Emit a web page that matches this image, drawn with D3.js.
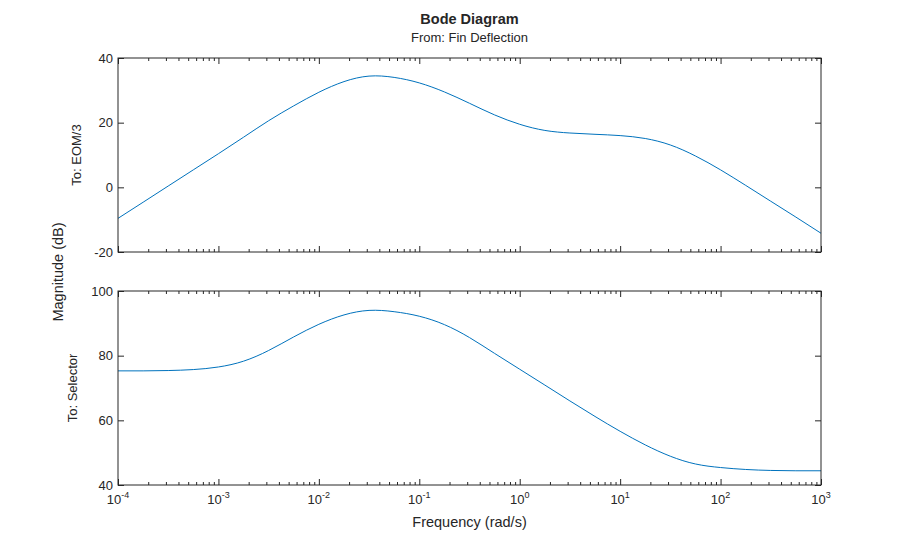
<!doctype html>
<meta charset="utf-8">
<style>
body {
  margin: 0;
  background: #fff;
  font-family: "Liberation Sans", Arial, sans-serif;
}
text { fill: #262626; }
.axis path, .axis line { stroke: #262626; }
</style>
<script src="https://cdn.jsdelivr.net/npm/d3@7"></script>
<body>

<script>

var w = 908, h = 546;

// frequency grid (rad/s), quarter decades, and magnitudes
var freq = [1e-4, 1.78e-4, 3.16e-4, 5.62e-4, 1e-3, 1.78e-3, 3.16e-3, 5.62e-3,
            1e-2, 1.78e-2, 3.16e-2, 5.62e-2, 1e-1, 1.78e-1, 3.16e-1, 5.62e-1,
            1, 1.78, 3.16, 5.62, 10, 17.8, 31.6, 56.2,
            100, 178, 316, 562, 1000];
var magEOM = [-9.6, -4.6, 0.4, 5.4, 10.4, 15.5, 20.6, 25.2,
              29.4, 32.7, 34.4, 34.0, 32.3, 29.5, 26.0, 22.4,
              19.5, 17.6, 16.8, 16.4, 16.0, 15.1, 13.1, 9.7,
              5.4, 0.6, -4.3, -9.2, -14.2];
var magSelector = [75.3, 75.3, 75.4, 75.7, 76.5, 78.3, 81.6, 85.8,
                   89.7, 92.6, 94.0, 93.6, 92.2, 89.6, 85.6, 80.7,
                   75.8, 70.9, 66.0, 61.2, 56.6, 52.4, 48.9, 46.5,
                   45.4, 44.8, 44.5, 44.4, 44.4];

var decades = [1e-4, 1e-3, 1e-2, 1e-1, 1e0, 1e1, 1e2, 1e3];
var decadeExp = ["-4", "-3", "-2", "-1", "0", "1", "2", "3"];
var eomTicks = [-20, 0, 20, 40];
var selTicks = [40, 60, 80, 100];

var left = 118, right = 821;

var svg = d3.select("body")
  .append("svg")
    .attr("width", w)
    .attr("height", h)

var x = d3.scaleLog().domain([1e-4, 1e3]).range([left, right]);

// minor ticks 2..9 in every decade
var minor = [];
decades.slice(0, -1).forEach(function(d) {
  for (var k = 2; k < 10; k++) minor.push(d * k);
});

var panels = [
  {top: 58, bottom: 252, domain: [-20, 40], ticks: eomTicks, values: magEOM, label: "To: EOM/3", lx: 81},
  {top: 291, bottom: 485, domain: [40, 100], ticks: selTicks, values: magSelector, label: "To: Selector", lx: 77}
];

panels.forEach(function(p, i) {
  var y = d3.scaleLinear().domain(p.domain).range([p.bottom, p.top]);
  var g = svg.append("g");

  // clip the curve to the box
  svg.append("clipPath").attr("id", "clip" + i)
    .append("rect")
      .attr("x", left).attr("y", p.top)
      .attr("width", right - left).attr("height", p.bottom - p.top);

  var line = d3.line()
      .x(function(d, j) { return x(freq[j]); })
      .y(function(d) { return y(d); })
      .curve(d3.curveNatural);

  g.append("path")
      .datum(p.values)
      .attr("clip-path", "url(#clip" + i + ")")
      .attr("d", line)
      .style("fill", "none")
      .style("stroke", "#0072BD")
      .style("stroke-width", 1);

  // x ticks, inside, top and bottom
  [[d3.axisBottom, p.bottom], [d3.axisTop, p.top]].forEach(function(a) {
    g.append("g").attr("class", "axis")
        .attr("transform", "translate(0," + a[1] + ")")
        .call(a[0](x).tickValues(minor).tickSize(-3).tickFormat("").tickSizeOuter(0))
        .call(function(s) { s.select(".domain").remove(); });
    g.append("g").attr("class", "axis")
        .attr("transform", "translate(0," + a[1] + ")")
        .call(a[0](x).tickValues(decades).tickSize(-6).tickFormat("").tickSizeOuter(0))
        .call(function(s) { s.select(".domain").remove(); });
  });

  // y ticks, inside, left and right (plain hyphen for negatives)
  var ly = g.append("g").attr("class", "axis")
      .attr("transform", "translate(" + left + ",0)")
      .call(d3.axisLeft(y).tickValues(p.ticks).tickSize(-6).tickSizeOuter(0).tickPadding(5)
        .tickFormat(function(d) { return String(d); }));
  ly.select(".domain").remove();
  ly.selectAll("text")
      .style("font-family", "Liberation Sans, Arial, sans-serif")
      .style("font-size", "13px")
      .style("fill", "#262626");

  g.append("g").attr("class", "axis")
      .attr("transform", "translate(" + right + ",0)")
      .call(d3.axisRight(y).tickValues(p.ticks).tickSize(-6).tickFormat("").tickSizeOuter(0))
      .call(function(s) { s.select(".domain").remove(); });

  // box
  g.append("rect")
      .attr("x", left).attr("y", p.top)
      .attr("width", right - left).attr("height", p.bottom - p.top)
      .style("fill", "none")
      .style("stroke", "#262626")
      .style("stroke-width", 1);

  g.append("text")
      .attr("transform", "translate(" + p.lx + "," + (p.top + p.bottom) / 2 + ") rotate(-90)")
      .attr("text-anchor", "middle")
      .style("font-size", "13px")
      .text(p.label);

  // decade labels under the last panel
  if (i == panels.length - 1) {
    var lab = g.selectAll(".xl").data(decades).enter()
      .append("text")
        .attr("class", "xl")
        .attr("x", function(d) { return x(d); })
        .attr("y", p.bottom + 19)
        .attr("text-anchor", "middle")
        .style("font-size", "13px");
    lab.append("tspan").text("10");
    lab.append("tspan")
        .attr("dy", -6)
        .style("font-size", "9px")
        .text(function(d, j) { return decadeExp[j]; });
  }
});

svg.append("text")
    .attr("x", (left + right) / 2)
    .attr("y", 24)
    .attr("text-anchor", "middle")
    .style("font-size", "14.5px")
    .style("font-weight", "bold")
    .text("Bode Diagram");

svg.append("text")
    .attr("x", (left + right) / 2)
    .attr("y", 42)
    .attr("text-anchor", "middle")
    .style("font-size", "13px")
    .text("From: Fin Deflection");

svg.append("text")
    .attr("x", (left + right) / 2)
    .attr("y", 527)
    .attr("text-anchor", "middle")
    .style("font-size", "14.5px")
    .text("Frequency (rad/s)");

svg.append("text")
    .attr("transform", "translate(63,272) rotate(-90)")
    .attr("text-anchor", "middle")
    .style("font-size", "14.5px")
    .text("Magnitude (dB)");

</script>
